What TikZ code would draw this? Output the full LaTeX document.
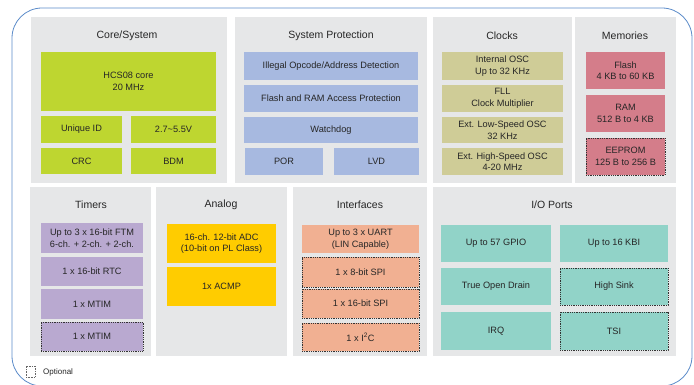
\documentclass[tikz,border=0pt]{standalone}
\usepackage{fontspec}
\setmainfont{Liberation Sans}
\definecolor{panel}{HTML}{E6E7E8}
\definecolor{cgreen}{HTML}{BED630}
\definecolor{cblue}{HTML}{A7B9E0}
\definecolor{colive}{HTML}{CFCC97}
\definecolor{crose}{HTML}{D47D8A}
\definecolor{clav}{HTML}{B9A9D0}
\definecolor{cyel}{HTML}{FFCC00}
\definecolor{csalm}{HTML}{F1B092}
\definecolor{cteal}{HTML}{91D3C8}
\definecolor{outline}{HTML}{5B8BC9}
\definecolor{txt}{HTML}{262626}
\tikzset{
  blk/.style={rectangle, inner sep=0pt, align=center, text=txt,
    font=\fontsize{9.2}{11.5}\selectfont},
  opt/.style={draw=black!80, densely dotted, line width=0.8pt},
  paneltitle/.style={text=txt, font=\fontsize{10.5}{12}\selectfont, inner sep=0pt},
}
\newcommand\blkbox[7]{%
  \node[blk, #6, minimum width={(#4-#2)*1pt}, minimum height={(#5-#3)*1pt}]
    (#1) at ({(#2+#4)/2},{(#3+#5)/2}) {#7};}
\begin{document}
\begin{tikzpicture}[x=1pt,y=-1pt]
\useasboundingbox (0,0) rectangle (694,385);
\draw[outline, line width=0.8pt, rounded corners=30pt] (12,8) rectangle (692,386);
% panels
\blkbox{pcore}{31}{17}{227}{183}{fill=panel}{}
\blkbox{pprot}{235}{17}{427}{183}{fill=panel}{}
\blkbox{pclk}{433}{17}{572}{183}{fill=panel}{}
\blkbox{pmem}{575}{17}{676}{183}{fill=panel}{}
\blkbox{ptim}{30}{187}{151}{356}{fill=panel}{}
\blkbox{pana}{156}{187}{287}{356}{fill=panel}{}
\blkbox{pint}{293}{187}{427}{356}{fill=panel}{}
\blkbox{pio}{433}{187}{676}{356}{fill=panel}{}
% titles
\node[paneltitle] (tcore) at (127,36) {Core/System};
\node[paneltitle] (tprot) at (331,36) {System Protection};
\node[paneltitle] (tclk) at (502,36) {Clocks};
\node[paneltitle] (tmem) at (625,36) {Memories};
\node[paneltitle] (ttim) at (91,205) {Timers};
\node[paneltitle] (tana) at (221,205) {Analog};
\node[paneltitle] (tint) at (360,205) {Interfaces};
\node[paneltitle] (tio) at (552,205) {I/O Ports};
% core
\blkbox{core}{41}{52}{216}{111}{fill=cgreen}{HCS08 core\\20 MHz}
\blkbox{uid}{41}{116}{122}{143}{fill=cgreen}{Unique ID}
\blkbox{volt}{131}{116}{216}{143}{fill=cgreen}{2.7\textasciitilde5.5V}
\blkbox{crc}{41}{148}{122}{174}{fill=cgreen}{CRC}
\blkbox{bdm}{131}{148}{216}{174}{fill=cgreen}{BDM}
% protection
\blkbox{illeg}{244}{52}{418}{80}{fill=cblue}{Illegal Opcode/Address Detection}
\blkbox{flprot}{244}{85}{418}{112}{fill=cblue}{Flash and RAM Access Protection}
\blkbox{wdog}{244}{117}{418}{143}{fill=cblue}{Watchdog}
\blkbox{por}{245}{148}{323}{175}{fill=cblue}{POR}
\blkbox{lvd}{334}{148}{419}{175}{fill=cblue}{LVD}
% clocks
\blkbox{iosc}{442}{52}{563}{80}{fill=colive}{Internal OSC\\Up to 32 KHz}
\blkbox{fll}{442}{85}{563}{112}{fill=colive}{FLL\\Clock Multiplier}
\blkbox{elosc}{442}{117}{563}{143}{fill=colive}{Ext. Low-Speed OSC\\32 KHz}
\blkbox{ehosc}{442}{148}{563}{175}{fill=colive}{Ext. High-Speed OSC\\4-20 MHz}
% memories
\blkbox{flash}{586}{52}{665}{89}{fill=crose}{Flash\\4 KB to 60 KB}
\blkbox{ram}{586}{95}{665}{132}{fill=crose}{RAM\\512 B to 4 KB}
\blkbox{eep}{586}{138}{665}{175}{fill=crose, opt}{EEPROM\\125 B to 256 B}
% timers
\blkbox{ftm}{41}{223}{143}{253}{fill=clav}{Up to 3 x 16-bit FTM\\6-ch. + 2-ch. + 2-ch.}
\blkbox{rtc}{41}{257}{143}{286}{fill=clav}{1 x 16-bit RTC}
\blkbox{mtima}{41}{289}{143}{319}{fill=clav}{1 x MTIM}
\blkbox{mtimb}{41}{322}{143}{351}{fill=clav, opt}{1 x MTIM}
% analog
\blkbox{adc}{167}{224}{276}{263}{fill=cyel}{16-ch. 12-bit ADC\\(10-bit on PL Class)}
\blkbox{acmp}{167}{267}{276}{306}{fill=cyel}{1x ACMP}
% interfaces
\blkbox{uart}{302}{225}{419}{253}{fill=csalm}{Up to 3 x UART\\(LIN Capable)}
\blkbox{spia}{302}{257}{419}{287}{fill=csalm, opt}{1 x 8-bit SPI}
\blkbox{spib}{302}{289}{419}{318}{fill=csalm, opt}{1 x 16-bit SPI}
\blkbox{iic}{302}{323}{419}{351}{fill=csalm, opt}{1 x I\textsuperscript{2}C}
% io
\blkbox{gpio}{441}{225}{551}{262}{fill=cteal}{Up to 57 GPIO}
\blkbox{kbi}{560}{225}{668}{262}{fill=cteal}{Up to 16 KBI}
\blkbox{tod}{441}{268}{551}{305}{fill=cteal}{True Open Drain}
\blkbox{hsink}{560}{268}{668}{305}{fill=cteal, opt}{High Sink}
\blkbox{irq}{441}{312}{551}{350}{fill=cteal}{IRQ}
\blkbox{tsi}{560}{312}{668}{350}{fill=cteal, opt}{TSI}
% legend
\blkbox{legbox}{26}{366}{35}{377}{draw=black!60, densely dotted, line width=0.6pt}{}
\node[anchor=west, inner sep=0pt, text=txt, font=\fontsize{8}{9}\selectfont] (legtxt) at (43,372) {Optional};
\end{tikzpicture}
\end{document}
